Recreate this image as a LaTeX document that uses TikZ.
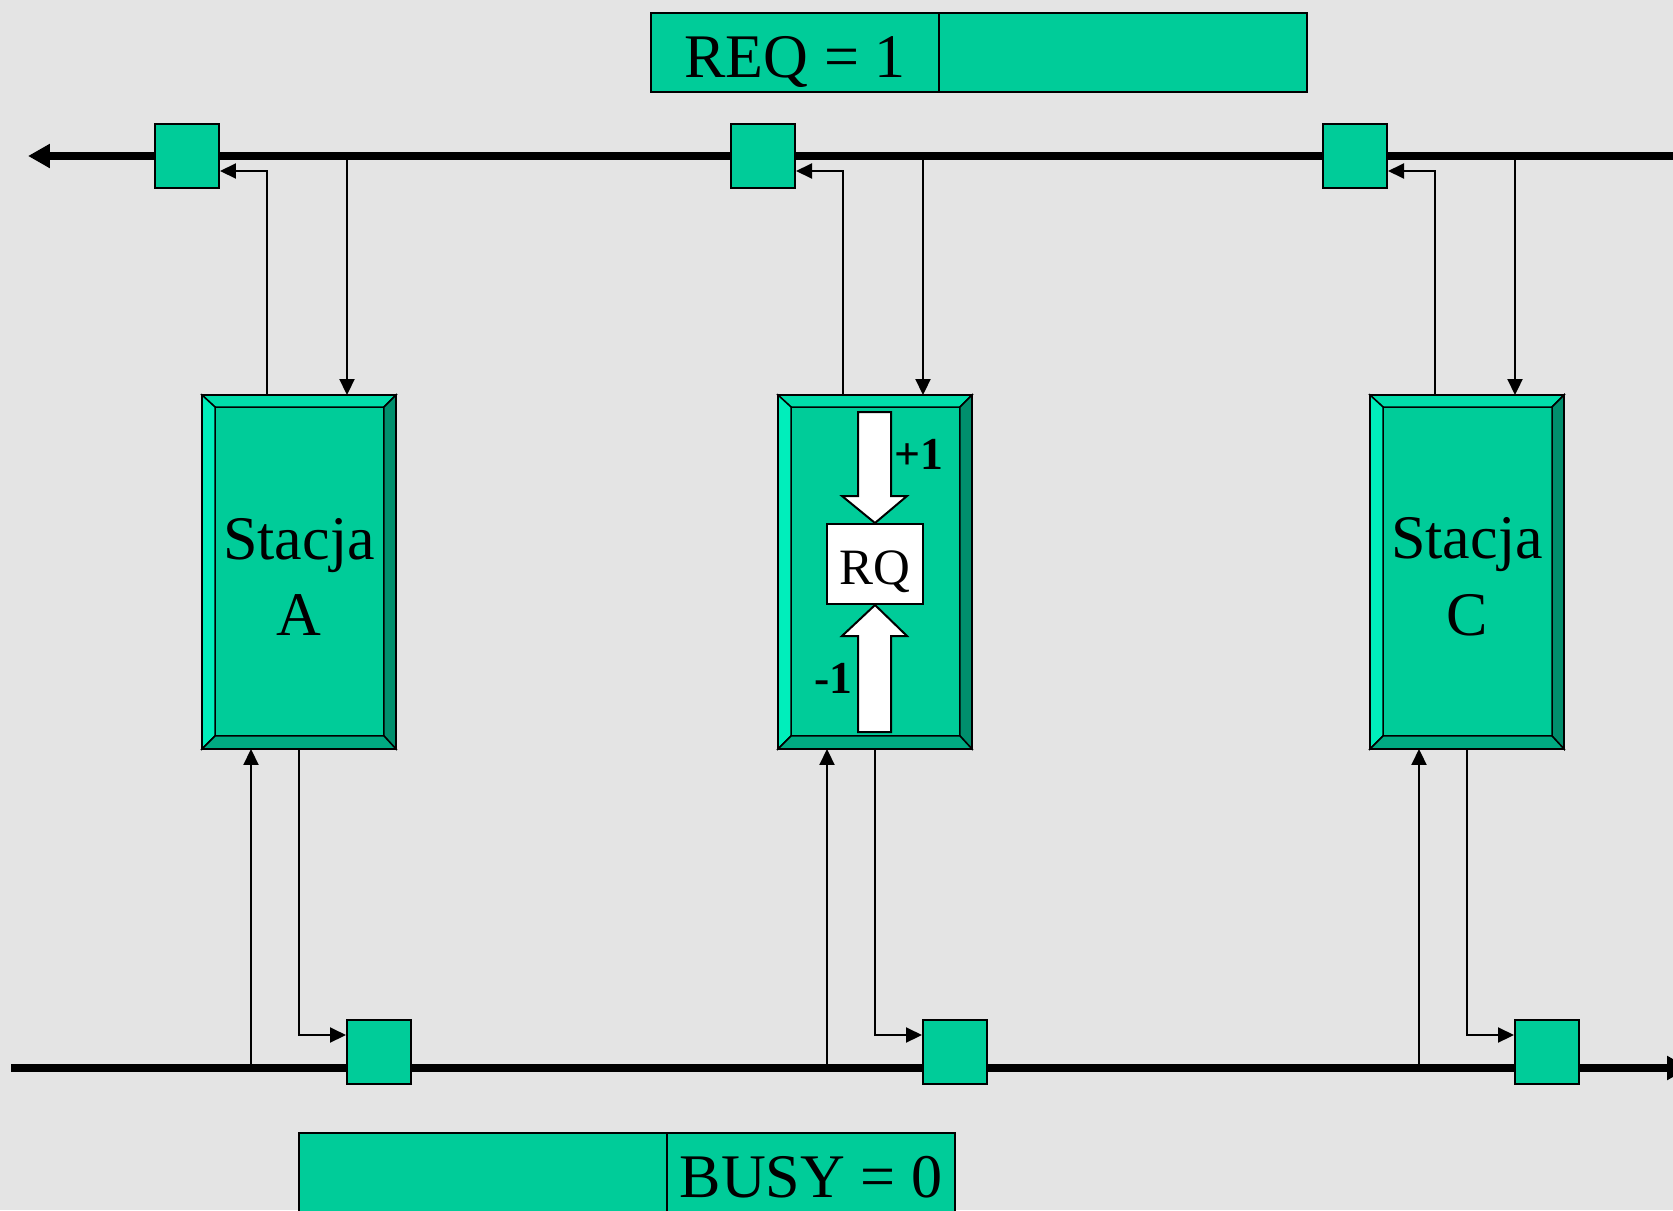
\documentclass[tikz,border=0pt]{standalone}
\usepackage{fontspec}
\setmainfont{Liberation Serif}
\usetikzlibrary{calc,arrows.meta}

\definecolor{paper}{HTML}{E4E4E4}
\definecolor{mint}{HTML}{00CC99}
\definecolor{mintlight}{HTML}{00DDAA}
\definecolor{mintbright}{HTML}{00EEBB}
\definecolor{mintdark}{HTML}{008F6D}
\definecolor{mintmid}{HTML}{00AA82}

% raised frame round a station node
\newcommand{\bevelframe}[1]{%
  \coordinate (#1a) at ($(#1.north west)+(13,12)$);
  \coordinate (#1b) at ($(#1.north east)+(-12,12)$);
  \coordinate (#1c) at ($(#1.south east)+(-12,-13)$);
  \coordinate (#1d) at ($(#1.south west)+(13,-13)$);
  \draw[fill=mintlight, line width=0.03cm] (#1.north west) -- (#1.north east) -- (#1b) -- (#1a) -- cycle;
  \draw[fill=mintbright, line width=0.03cm] (#1.north west) -- (#1a) -- (#1d) -- (#1.south west) -- cycle;
  \draw[fill=mintdark, line width=0.03cm] (#1.north east) -- (#1.south east) -- (#1c) -- (#1b) -- cycle;
  \draw[fill=mintmid, line width=0.03cm] (#1.south west) -- (#1d) -- (#1c) -- (#1.south east) -- cycle;
  \draw[line width=0.05cm] (#1.north west) rectangle (#1.south east);
}

\begin{document}
\begin{tikzpicture}[x=0.02cm, y=-0.02cm, line width=0.04cm,
    >={Triangle[length=0.32cm, width=0.3cm]},
    station/.style={draw, fill=mint, minimum width=3.84cm, minimum height=7.04cm,
      inner sep=0, align=center, text height=2.56cm, font=\fontsize{35.3}{43.8}\selectfont},
    tap/.style={draw, fill=mint, minimum size=1.28cm, inner sep=0},
    field/.style={draw, fill=mint, minimum height=1.58cm, inner sep=0},
    bigtext/.style={font=\fontsize{35.3}{43.8}\selectfont, inner sep=0},
    sign/.style={font=\bfseries\fontsize{26}{30}\selectfont, inner sep=0, anchor=base west},
    bus/.style={line width=0.15cm, -{Triangle[length=0.44cm, width=0.46cm]}}]

    % Background
    \path[use as bounding box, fill=paper] (0,0) rectangle (1673,1210);
    \clip (0,0) rectangle (1673,1210);

    % Define coordinates
    \coordinate (tbR) at (1700,156);
    \coordinate (tbL) at (28,156);
    \coordinate (bbL) at (11,1068);
    \coordinate (bbR) at (1689,1068);

    % Buses
    \draw[bus] (tbR) -- (tbL);
    \draw[bus] (bbL) -- (bbR);

    % Stations
    \node[station] (sA) at (299,572) {Stacja\\A};
    \node[station] (sB) at (875,572) {};
    \node[station] (sC) at (1467,572) {Stacja\\C};
    \bevelframe{sA}
    \bevelframe{sB}
    \bevelframe{sC}

    % Taps on the buses
    \node[tap] (tA) at (187,156) {};
    \node[tap] (tB) at (763,156) {};
    \node[tap] (tC) at (1355,156) {};
    \node[tap] (bA) at (379,1052) {};
    \node[tap] (bB) at (955,1052) {};
    \node[tap] (bC) at (1547,1052) {};

    % Connector feet on the stations
    \coordinate (dA) at ($(sA.north)+(48,0)$);
    \coordinate (dB) at ($(sB.north)+(48,0)$);
    \coordinate (dC) at ($(sC.north)+(48,0)$);
    \coordinate (uA) at ($(sA.south)+(-48,0)$);
    \coordinate (uB) at ($(sB.south)+(-48,0)$);
    \coordinate (uC) at ($(sC.south)+(-48,0)$);

    % Upper connectors
    \draw[->] ($(sA.north)+(-32,0)$) |- ($(tA.east)+(0,15)$);
    \draw[->] ($(sB.north)+(-32,0)$) |- ($(tB.east)+(0,15)$);
    \draw[->] ($(sC.north)+(-32,0)$) |- ($(tC.east)+(0,15)$);
    \draw[->] (dA |- tbL) -- (dA);
    \draw[->] (dB |- tbL) -- (dB);
    \draw[->] (dC |- tbL) -- (dC);

    % Lower connectors
    \draw[->] (uA |- bbL) -- (uA);
    \draw[->] (uB |- bbL) -- (uB);
    \draw[->] (uC |- bbL) -- (uC);
    \draw[->] (sA.south) |- ($(bA.west)+(0,-17)$);
    \draw[->] (sB.south) |- ($(bB.west)+(0,-17)$);
    \draw[->] (sC.south) |- ($(bC.west)+(0,-17)$);

    % Request counter inside station B
    \node[draw, fill=white, minimum width=1.92cm, minimum height=1.6cm, inner sep=0,
      text height=0.8cm, text depth=0pt, font=\fontsize{29}{35}\selectfont] (rq) at (875,564) {RQ};
    \draw[fill=white] (858,412) -- (891,412) -- (891,496) -- (907,496) -- (875,523)
      -- (842,496) -- (858,496) -- cycle;
    \draw[fill=white] (875,605) -- (907,636) -- (891,636) -- (891,732) -- (858,732)
      -- (858,636) -- (842,636) -- cycle;
    \node[sign] (plus) at (893,469) {+1};
    \node[sign] (minus) at (813,693) {-1};

    % Fields
    \node[field, minimum width=5.76cm] (reqL) at (795,52.5) {};
    \node[field, minimum width=7.36cm] (reqR) at (1123,52.5) {};
    \node[bigtext, anchor=base] (reqT) at (795,77) {REQ = 1};
    \node[field, minimum width=7.36cm, minimum height=2cm, anchor=north] (busyL) at (483,1132) {};
    \node[field, minimum width=5.76cm, minimum height=2cm, anchor=north] (busyR) at (811,1132) {};
    \node[bigtext, anchor=base] (busyT) at (811,1197) {BUSY = 0};
\end{tikzpicture}
\end{document}
